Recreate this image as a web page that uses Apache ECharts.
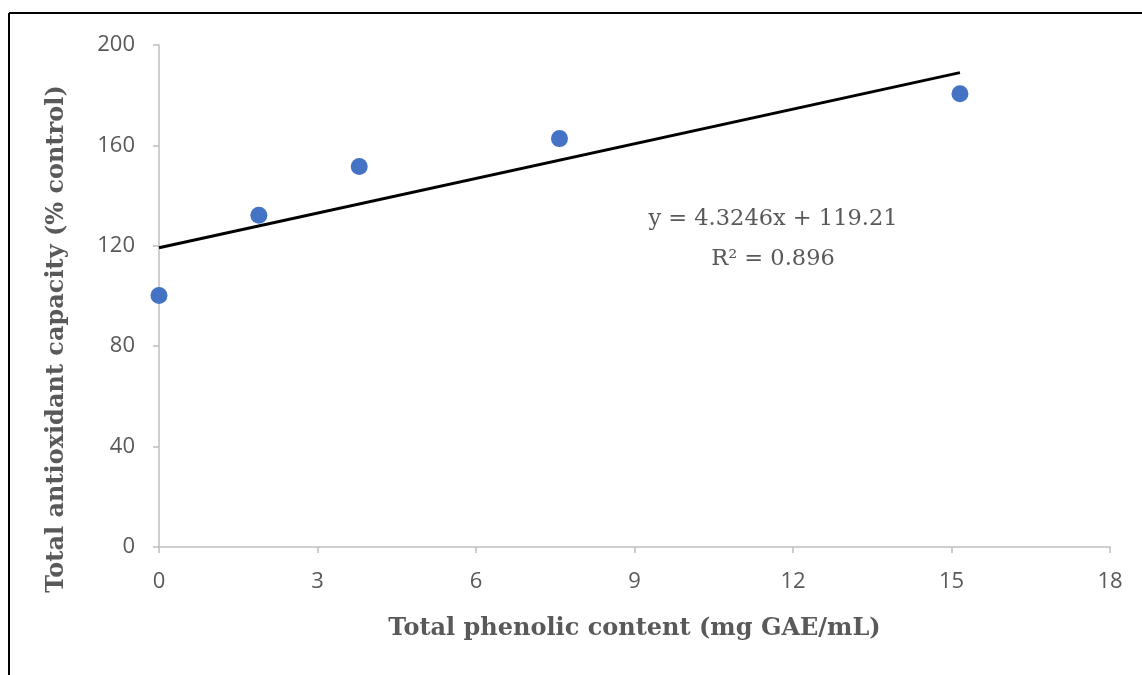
<!DOCTYPE html>
<html>
<head>
<meta charset="utf-8">
<script src="https://cdn.jsdelivr.net/npm/echarts@6/dist/echarts.min.js"></script>
<style>html,body{margin:0;padding:0;background:#fff}#c{width:1142px;height:675px}</style>
</head>
<body>
<div id="c"></div>
<script>
var phenolic = [0, 1.89, 3.79, 7.58, 15.16];
var capacity = [100.2, 132.2, 151.6, 162.7, 180.6];
var trendX = [0, 15.16];
var trendY = [119.2, 189.0];
var xTicks = [0, 3, 6, 9, 12, 15, 18];
var yTicks = [0, 40, 80, 120, 160, 200];
var xTitle = 'Total phenolic content (mg GAE/mL)';
var yTitle = 'Total antioxidant capacity (% control)';
var equationText = 'y = 4.3246x + 119.21';
var r2Text = 'R² = 0.896';

var chart = echarts.init(document.getElementById('c'));
var axisColor = '#bfbfbf';
var textColor = '#595959';
chart.setOption({
  animation: false,
  grid: {left: 159, right: 32, top: 45, bottom: 128},
  xAxis: {
    type: 'value', min: xTicks[0], max: xTicks[xTicks.length-1], interval: 3,
    name: xTitle, nameLocation: 'middle', nameGap: 70,
    nameTextStyle: {fontFamily: 'DejaVu Serif', fontWeight: 'bold', fontSize: 24, color: textColor},
    axisLine: {show: true, lineStyle: {color: axisColor, width: 1.5}},
    axisTick: {show: true, length: 6, lineStyle: {color: axisColor, width: 1.5}},
    axisLabel: {fontFamily: 'Open Sans', fontSize: 22, color: textColor, margin: 24},
    splitLine: {show: false}
  },
  yAxis: {
    type: 'value', min: yTicks[0], max: yTicks[yTicks.length-1], interval: 40,
    axisLine: {show: true, lineStyle: {color: axisColor, width: 1.5}},
    axisTick: {show: true, length: 6, lineStyle: {color: axisColor, width: 1.5}},
    axisLabel: {fontFamily: 'Open Sans', fontSize: 22, color: textColor, margin: 24},
    splitLine: {show: false}
  },
  series: [
    {
      type: 'line', data: trendX.map(function(x, i){return [x, trendY[i]];}),
      symbol: 'none', lineStyle: {color: '#000', width: 3}, z: 3
    },
    {
      type: 'scatter', data: phenolic.map(function(x, i){return [x, capacity[i]];}),
      symbolSize: 17, itemStyle: {color: '#4472c4', opacity: 1}, z: 4
    }
  ],
  graphic: [
    {type: 'line', shape: {x1: 9, y1: 13, x2: 1142, y2: 13}, style: {stroke: '#000', lineWidth: 2}},
    {type: 'line', shape: {x1: 9, y1: 13, x2: 9, y2: 675}, style: {stroke: '#000', lineWidth: 2}},
    {type: 'text', x: 57, y: 339, rotation: Math.PI / 2,
     style: {text: yTitle, font: 'bold 24px "DejaVu Serif"', fill: textColor, align: 'center', verticalAlign: 'middle'}},
    {type: 'text', x: 773, y: 219, style: {text: equationText, font: '22.5px "DejaVu Serif"', fill: textColor, align: 'center', verticalAlign: 'middle'}},
    {type: 'text', x: 773, y: 259, style: {text: r2Text, font: '22.5px "DejaVu Serif"', fill: textColor, align: 'center', verticalAlign: 'middle'}}
  ]
});
</script>
</body>
</html>
